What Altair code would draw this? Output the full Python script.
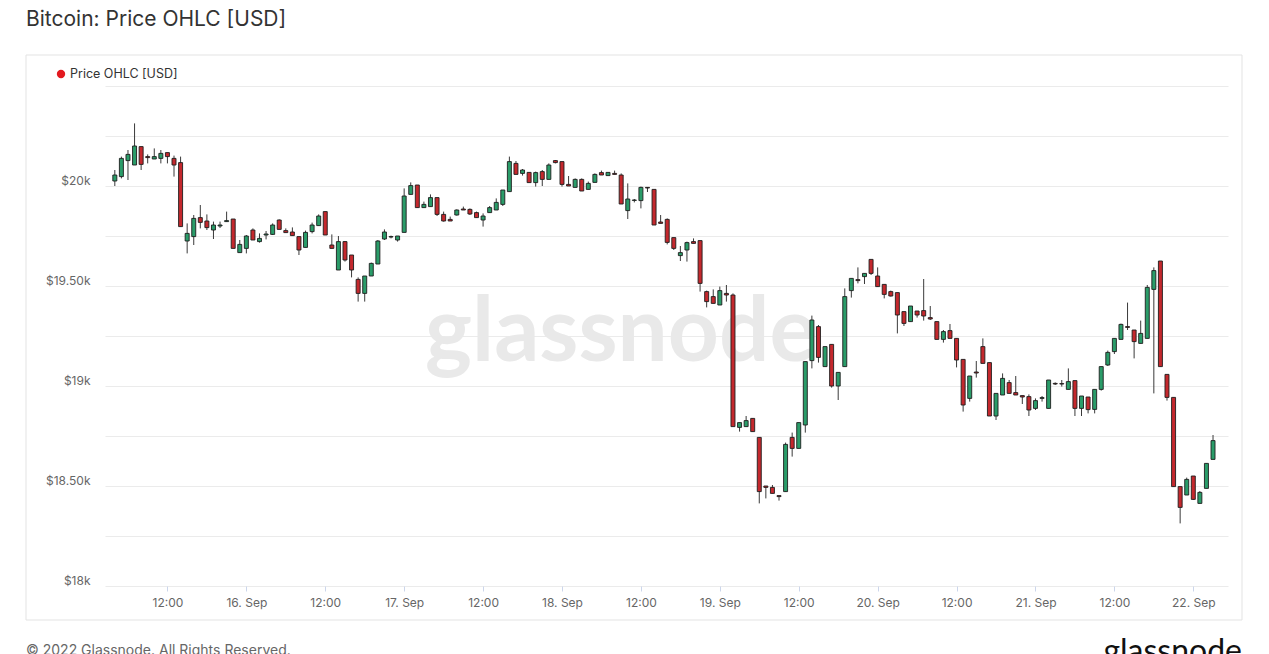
import altair as alt
import numpy as np
import pandas as pd

# ---------------- data (hourly candles) ----------------
opens = [20025, 20047, 20127, 20105, 20197, 20147, 20135, 20138, 20167, 20138,
         20117, 19725, 19747, 19842, 19825, 19780, 19800, 19822, 19835, 19667,
         19688, 19780, 19722, 19755, 19758, 19830, 19777, 19770, 19747, 19693,
         19772, 19802, 19872, 19705, 19580, 19722, 19655, 19533, 19463, 19550,
         19610, 19735, 19745, 19730, 19768, 19958, 20005, 19892, 19897, 19942,
         19858, 19833, 19855, 19885, 19883, 19867, 19830, 19867, 19880, 19908,
         19972, 20113, 20063, 20068, 20017, 20072, 20033, 20127, 20122, 20008,
         19993, 20033, 19983, 20018, 20067, 20052, 20063, 20055, 19877, 19928,
         19927, 19993, 19983, 19820, 19833, 19742, 19652, 19680, 19722, 19727,
         19472, 19447, 19405, 19463, 19455, 18793, 18797, 18838, 18743, 18500,
         18493, 18452, 18472, 18743, 18688, 18805, 19127, 19297, 19097, 19208,
         19000, 19097, 19477, 19532, 19547, 19633, 19550, 19508, 19472, 19467,
         19372, 19322, 19375, 19377, 19342, 19322, 19233, 19277, 19238, 19133,
         18938, 19070, 19197, 19117, 18850, 18955, 19017, 18967, 18952, 18947,
         18888, 18938, 18888, 19013, 19012, 18983, 19027, 18888, 18945, 18883,
         18983, 19105, 19172, 19233, 19297, 19280, 19213, 19238, 19483, 19625,
         19058, 18943, 18497, 18455, 18550, 18413, 18488, 18633]
highs = [20080, 20147, 20180, 20313, 20197, 20158, 20188, 20180, 20167, 20152,
         20147, 19813, 19855, 19905, 19858, 19822, 19822, 19872, 19835, 19730,
         19755, 19788, 19763, 19775, 19813, 19833, 19788, 19793, 19747, 19777,
         19817, 19858, 19872, 19758, 19750, 19725, 19655, 19543, 19550, 19617,
         19730, 19783, 19752, 19750, 19988, 20018, 20005, 19922, 19958, 19942,
         19872, 19847, 19883, 19897, 19888, 19872, 19863, 19900, 19938, 19980,
         20147, 20125, 20085, 20068, 20072, 20080, 20113, 20130, 20122, 20050,
         20038, 20038, 20022, 20063, 20077, 20068, 20077, 20063, 20013, 19935,
         19997, 19995, 19983, 19855, 19838, 19742, 19700, 19722, 19738, 19727,
         19477, 19483, 19497, 19505, 19463, 18817, 18850, 18838, 18743, 18500,
         18505, 18452, 18717, 18767, 18817, 19122, 19352, 19305, 19197, 19208,
         19068, 19488, 19538, 19593, 19563, 19633, 19593, 19508, 19477, 19467,
         19372, 19400, 19375, 19535, 19400, 19322, 19280, 19310, 19238, 19133,
         19050, 19125, 19238, 19117, 18963, 19063, 19030, 19050, 18952, 18958,
         18938, 18950, 19030, 19018, 19030, 19088, 19027, 18950, 18945, 18983,
         19097, 19177, 19238, 19312, 19417, 19280, 19327, 19505, 19593, 19625,
         19058, 18943, 18497, 18542, 18550, 18475, 18613, 18755]
lows = [20000, 20038, 20030, 20105, 20080, 20113, 20135, 20113, 20113, 20047,
        19797, 19663, 19705, 19788, 19780, 19735, 19790, 19820, 19688, 19667,
        19663, 19730, 19717, 19733, 19755, 19783, 19767, 19752, 19655, 19693,
        19763, 19802, 19755, 19688, 19580, 19622, 19543, 19422, 19422, 19550,
        19610, 19730, 19738, 19722, 19768, 19958, 19892, 19892, 19897, 19850,
        19822, 19825, 19852, 19880, 19855, 19842, 19797, 19867, 19880, 19900,
        19972, 20058, 20052, 20017, 19997, 20000, 20033, 20113, 19997, 20000,
        19993, 19975, 19983, 20018, 20055, 20052, 20058, 19910, 19835, 19918,
        19888, 19970, 19805, 19813, 19708, 19680, 19625, 19622, 19713, 19472,
        19393, 19413, 19405, 19422, 18797, 18772, 18797, 18772, 18413, 18438,
        18463, 18427, 18472, 18647, 18688, 18767, 19088, 19117, 19097, 18992,
        18930, 19097, 19442, 19513, 19510, 19555, 19497, 19438, 19447, 19263,
        19300, 19322, 19342, 19327, 19330, 19233, 19217, 19238, 19093, 18872,
        18922, 19042, 19113, 18850, 18830, 18955, 18963, 18955, 18910, 18850,
        18880, 18922, 18888, 19005, 18997, 18983, 18850, 18850, 18863, 18863,
        18977, 19100, 19160, 19233, 19280, 19138, 19213, 19238, 18963, 19097,
        18927, 18497, 18313, 18455, 18430, 18413, 18488, 18633]
closes = [20055, 20138, 20158, 20200, 20108, 20142, 20147, 20163, 20147, 20105,
          19797, 19763, 19838, 19818, 19792, 19805, 19805, 19827, 19688, 19708,
          19750, 19730, 19738, 19760, 19805, 19783, 19767, 19752, 19680, 19768,
          19805, 19850, 19755, 19688, 19722, 19630, 19580, 19463, 19550, 19613,
          19725, 19770, 19747, 19750, 19950, 20002, 19892, 19908, 19942, 19858,
          19825, 19825, 19880, 19880, 19860, 19842, 19850, 19892, 19918, 19980,
          20122, 20058, 20080, 20017, 20067, 20033, 20105, 20117, 20008, 20000,
          20033, 19975, 20013, 20058, 20055, 20068, 20058, 19910, 19935, 19930,
          19993, 19990, 19805, 19813, 19718, 19688, 19667, 19717, 19713, 19513,
          19422, 19413, 19477, 19455, 18797, 18817, 18827, 18772, 18472, 18493,
          18463, 18447, 18708, 18688, 18817, 19122, 19330, 19143, 19197, 19000,
          19068, 19447, 19538, 19527, 19563, 19563, 19497, 19458, 19450, 19355,
          19313, 19400, 19355, 19350, 19335, 19233, 19272, 19238, 19130, 18905,
          19050, 19065, 19113, 18850, 18963, 19038, 18963, 18955, 18945, 18880,
          18927, 18942, 19030, 19010, 19010, 19022, 18888, 18950, 18882, 18983,
          19097, 19168, 19238, 19308, 19293, 19222, 19263, 19493, 19577, 19097,
          18943, 18497, 18393, 18533, 18433, 18468, 18613, 18727]

first_candle = "2022-09-15 04:00"
x_domain = ["2022-09-15 03:16", "2022-09-22 04:31"]
x_ticks = ["2022-09-15 12:00", "2022-09-16 00:00", "2022-09-16 12:00", "2022-09-17 00:00",
           "2022-09-17 12:00", "2022-09-18 00:00", "2022-09-18 12:00", "2022-09-19 00:00",
           "2022-09-19 12:00", "2022-09-20 00:00", "2022-09-20 12:00", "2022-09-21 00:00",
           "2022-09-21 12:00", "2022-09-22 00:00"]
y_grid = [18000, 18250, 18500, 18750, 19000, 19250, 19500, 19750, 20000, 20250, 20500]
y_tick_values = [18000, 18500, 19000, 19500, 20000]
y_tick_labels = ["$18k", "$18.50k", "$19k", "$19.50k", "$20k"]

title_text = "Bitcoin: Price OHLC [USD]"
legend_text = "Price OHLC [USD]"
footer_text = "© 2022 Glassnode. All Rights Reserved."
brand_text = "glassnode"

GREEN = "#2a9c69"
RED = "#c4282d"
FONT = "Inter"


def dt(s):
    t = pd.Timestamp(s)
    return alt.DateTime(year=t.year, month=t.month, date=t.day,
                        hours=t.hour, minutes=t.minute, utc=True)


times = pd.date_range(first_candle, periods=len(opens), freq="h", tz="UTC")
df = pd.DataFrame({"time": times, "open": opens, "high": highs,
                   "low": lows, "close": closes})
df["dir"] = np.where(df["close"] >= df["open"], "up", "down")

y_label_expr = " : ".join(f"datum.value == {v} ? '{l}'"
                          for v, l in zip(y_tick_values, y_tick_labels)) + " : ''"

W, H = 1123, 500

x_enc = alt.X(
    "time:T",
    scale=alt.Scale(type="utc", domain=[dt(x_domain[0]), dt(x_domain[1])]),
    axis=alt.Axis(
        values=[dt(s) for s in x_ticks],
        labelExpr="utcFormat(datum.value, '%H') == '12' ? '12:00' : utcFormat(datum.value, '%-d. %b')",
        grid=False, domain=False, ticks=True, tickSize=5, tickColor="#ccd6eb",
        labelPadding=6, labelFontSize=12, labelColor="#666666", labelFont=FONT,
        title=None, labelFlush=False),
)
y_scale = alt.Scale(domain=[18000, 20500], zero=False, nice=False)
y_axis = alt.Axis(values=y_grid, labelExpr=y_label_expr, grid=True, gridColor="#ebebeb",
                  domain=False, ticks=False, labelPadding=15, labelFontSize=12,
                  labelColor="#666666", labelFont=FONT, title=None,
                  labelBaseline="alphabetic", labelOffset=-2)

base = alt.Chart(df)

wicks = base.mark_rule(color="#3a3a3a", strokeWidth=1).encode(
    x=x_enc,
    y=alt.Y("low:Q", scale=y_scale, axis=y_axis),
    y2="high:Q",
)

bodies = base.mark_bar(size=4, stroke="#1e1e1e", strokeWidth=0.9).encode(
    x=alt.X("time:T"),
    y=alt.Y("open:Q"),
    y2="close:Q",
    color=alt.Color("dir:N", scale=alt.Scale(domain=["up", "down"], range=[GREEN, RED]),
                    legend=None),
)

# decorations (pixel positions relative to the plot area)
one = pd.DataFrame({"k": [0]})

panel = alt.Chart(one).mark_rect(fill="white", fillOpacity=0, stroke="#e3e3e3",
                                 strokeWidth=1).encode(
    x=alt.value(-79), x2=alt.value(1137), y=alt.value(-31), y2=alt.value(534))

watermark = alt.Chart(pd.DataFrame({"t": [brand_text]})).mark_text(
    fontSize=89, font="Lato", fontWeight="bold", color="#e9e9e9",
    align="center", baseline="alphabetic").encode(
    text="t:N", x=alt.value(516), y=alt.value(275))

title = alt.Chart(pd.DataFrame({"t": [title_text]})).mark_text(
    fontSize=21, font=FONT, color="#333333", align="left",
    baseline="alphabetic").encode(text="t:N", x=alt.value(-79), y=alt.value(-60))

legend_dot = alt.Chart(one).mark_circle(size=70, color="#e3191f", opacity=1).encode(
    x=alt.value(-44), y=alt.value(-12))

legend_lbl = alt.Chart(pd.DataFrame({"t": [legend_text]})).mark_text(
    fontSize=12.5, font=FONT, color="#333333", align="left",
    baseline="middle").encode(text="t:N", x=alt.value(-35), y=alt.value(-12))

footer = alt.Chart(pd.DataFrame({"t": [footer_text]})).mark_text(
    fontSize=14, font=FONT, color="#666666", align="left",
    baseline="alphabetic").encode(text="t:N", x=alt.value(-79), y=alt.value(569))

brand = alt.Chart(pd.DataFrame({"t": [brand_text]})).mark_text(
    fontSize=32, font="Lato", fontWeight="normal", color="#111111", align="right",
    baseline="alphabetic").encode(text="t:N", x=alt.value(1137), y=alt.value(576))

chart = alt.layer(
    panel, watermark, wicks, bodies, title, legend_dot, legend_lbl, footer, brand
).properties(
    width=W, height=H,
    autosize=alt.AutoSizeParams(type="none"),
    padding={"left": 97, "top": 78, "right": 25, "bottom": 68},
).configure_view(stroke=None)

chart.save("out.html", embed_options={"renderer": "svg", "actions": False})
